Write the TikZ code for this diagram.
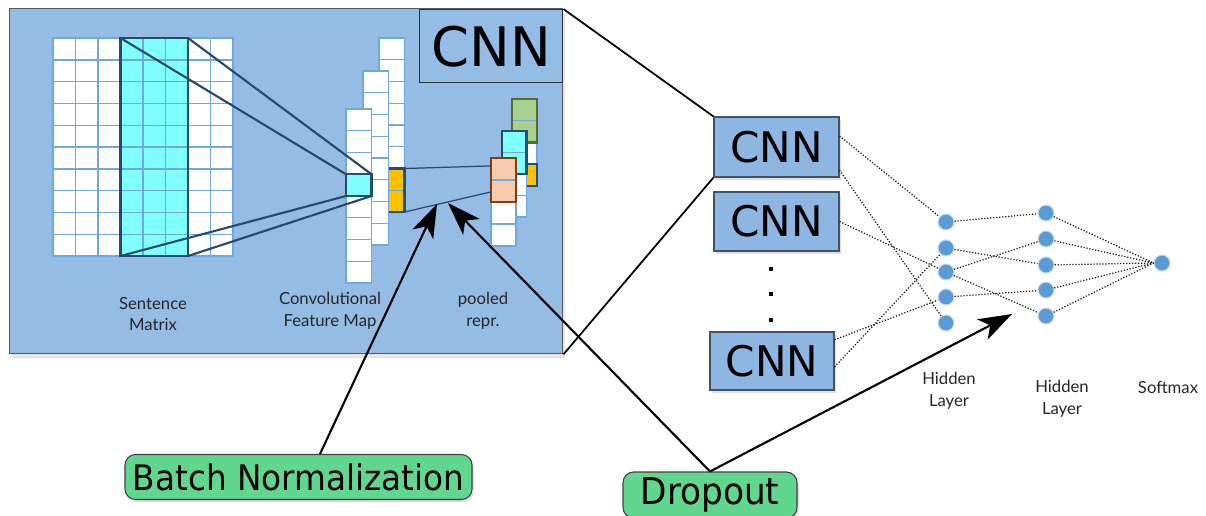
\documentclass[tikz,border=0pt]{standalone}
\usepackage{fontspec}
\setmainfont{Lato}
\newfontfamily\dejavu{DejaVu Sans}
\newfontfamily\dejavun[FakeStretch=0.93]{DejaVu Sans}
\usetikzlibrary{arrows.meta,calc,shadows}

\definecolor{panelblue}{RGB}{148,188,228}
\definecolor{boxblue}{RGB}{141,182,226}
\definecolor{gridblue}{RGB}{111,168,220}
\definecolor{edgeblue}{RGB}{31,78,121}
\definecolor{lineblue}{RGB}{40,72,108}
\definecolor{cellcyan}{RGB}{128,255,255}
\definecolor{cellorange}{RGB}{255,192,0}
\definecolor{cellpink}{RGB}{248,203,173}
\definecolor{pinkedge}{RGB}{132,60,12}
\definecolor{cellgreen}{RGB}{169,209,142}
\definecolor{greenedge}{RGB}{84,110,50}
\definecolor{neuron}{RGB}{91,155,213}
\definecolor{tagfill}{RGB}{96,214,142}

\tikzset{
  pxsize/.style 2 args={minimum width=#1*0.02cm, minimum height=#2*0.02cm},
  cell/.style={draw=gridblue, fill=white, line width=0.8pt},
  pairbox/.style={anchor=north west, inner sep=0pt, outer sep=0pt, line width=1.2pt},
  fmline/.style={draw=lineblue, line width=1.2pt},
  lab/.style={align=center, text=black!85, font=\fontsize{9.5}{12.5}\selectfont},
  panel/.style={anchor=north west, fill=panelblue, draw=black!65, line width=0.8pt,
    drop shadow={opacity=0.2, shadow xshift=1.5pt, shadow yshift=-2.5pt}},
  cnnbox/.style={fill=boxblue, draw=black!55!boxblue, line width=0.6pt, inner sep=0pt,
    font=\dejavu\fontsize{24}{28}\selectfont,
    drop shadow={opacity=0.25, shadow xshift=1pt, shadow yshift=-1.5pt}},
  unit/.style={circle, fill=neuron, draw=neuron!35, line width=0.6pt, minimum size=0.32cm, inner sep=0pt},
  link/.style={densely dotted, line width=0.7pt, black!90},
  tag/.style={rounded corners=6pt, fill=tagfill, draw=black!75, line width=0.6pt, inner sep=0pt,
    font=\dejavun\fontsize{20}{24}\selectfont,
    drop shadow={opacity=0.25, shadow xshift=1pt, shadow yshift=-1.5pt}},
  bigarrow/.style={-{Stealth[length=19pt,width=13pt,inset=5pt]}, line width=1.2pt}
}

\begin{document}
\begin{tikzpicture}[x=0.02cm, y=-0.02cm]
  \useasboundingbox (0,0) rectangle (1206,515);

  \node[panel, pxsize={553}{345}] (panel) at (9,8) {};
  \node[anchor=north west, pxsize={143}{73}, draw=black!80, line width=0.8pt, inner sep=0pt,
    font=\dejavu\fontsize{31}{36}\selectfont] (cnnbig) at (419,9) {CNN};

  % sentence matrix
  \foreach \i in {0,...,7}
    \foreach \j in {0,...,9}
      \draw[cell] ({53+22.5*\i},{38+21.8*\j}) rectangle ++(22.5,21.8);
  \foreach \i in {3,4,5}
    \foreach \j in {0,...,9}
      \draw[cell, fill=cellcyan] ({53+22.5*\i},{38+21.8*\j}) rectangle ++(22.5,21.8);
  \node[pairbox, draw=lineblue, line width=1.4pt, pxsize={67.5}{218}] (win) at (120.5,38) {};

  % feature map
  \foreach \k/\c in {0/white,1/white,2/white,3/white,4/white,5/white,6/cellorange,7/cellorange}
    \draw[cell, fill=\c] (379,{38+21.75*\k}) rectangle ++(25.5,21.75);
  \node[pairbox, draw=edgeblue, pxsize={25.5}{43.5}] (ofm) at (379,168.5) {};
  \foreach \k in {0,...,7}
    \draw[cell] (363,{71+21.75*\k}) rectangle ++(25.5,21.75);
  \foreach \k/\c in {0/white,1/white,2/white,3/cellcyan,4/white,5/white,6/white,7/white}
    \draw[cell, fill=\c] (346,{109+21.75*\k}) rectangle ++(25.5,21.75);
  \node[pairbox, draw=edgeblue, pxsize={25.5}{21.75}] (fcell) at (346,174.25) {};

  % pooled
  \foreach \k/\c in {0/cellgreen,1/cellgreen,2/white,3/cellorange}
    \draw[cell, fill=\c] (512,{99+21.75*\k}) rectangle ++(25,21.75);
  \node[pairbox, draw=greenedge, pxsize={25}{43.5}] (pgreen) at (512,99) {};
  \node[pairbox, draw=edgeblue, pxsize={25}{21.75}] (porange) at (512,164.25) {};
  \foreach \k/\c in {0/cellcyan,1/cellcyan,2/white,3/white}
    \draw[cell, fill=\c] (502,{131+21.5*\k}) rectangle ++(24.5,21.5);
  \node[pairbox, draw=edgeblue, pxsize={24.5}{43}] (pcyan) at (502,131) {};
  \foreach \k/\c in {0/cellpink,1/cellpink,2/white,3/white}
    \draw[cell, fill=\c] (491,{158+22*\k}) rectangle ++(25,22);
  \node[pairbox, draw=pinkedge, pxsize={25}{44}] (pool) at (491,158) {};

  \draw[fmline] (win.north west) -- (fcell.north west);
  \draw[fmline] (win.north east) -- (fcell.north east);
  \draw[fmline] (win.south west) -- (fcell.south west);
  \draw[fmline] (win.south east) -- (fcell.south east);
  \draw[fmline, line width=0.7pt] (ofm.north east) -- ($(pool.north west)!0.18!(pool.south west)$);
  \draw[fmline, line width=0.7pt] (ofm.south east) -- ($(pool.north west)!0.77!(pool.south west)$);

  \node[lab] (lsent) at (153,314) {Sentence\\Matrix};
  \node[lab] (lconv) at (330,311) {Convolutional\\Feature Map};
  \node[lab] (lpool) at (483,311) {pooled\\repr.};

  % cnn column
  \node[cnnbox, pxsize={125}{60}] (cnn1) at (776.5,147) {CNN};
  \node[cnnbox, pxsize={125}{59}] (cnn2) at (776.5,221.5) {CNN};
  \node[cnnbox, pxsize={124}{58}] (cnn3) at (772,361) {CNN};
  \foreach \y in {269,294,320}
    \fill ({771-2},{\y-2}) rectangle ++(4,4);
  \draw[line width=1pt] (cnnbig.north east) -- (cnn1.north west);
  \draw[line width=1pt] (panel.south east) -- (cnn1.south west);

  % dense layers
  \foreach \i/\y in {1/222,2/248,3/272,4/297,5/323}
    \node[unit] (a\i) at (946,\y) {};
  \foreach \i/\y in {1/213,2/239,3/265,4/290,5/316}
    \node[unit] (b\i) at (1046,\y) {};
  \node[unit] (out) at (1162,263) {};

  \draw[link] ($(cnn1.north east)!0.32!(cnn1.south east)$) -- (a1);
  \draw[link] ($(cnn1.north east)!0.88!(cnn1.south east)$) -- (a5);
  \draw[link] (cnn2.east) -- (a3);
  \draw[link] ($(cnn3.north east)!0.14!(cnn3.south east)$) -- (a4);
  \draw[link] ($(cnn3.north east)!0.6!(cnn3.south east)$) -- (a2);
  \foreach \s/\t in {1/1,2/3,3/2,3/5,4/4}
    \draw[link] (a\s) -- (b\t);
  \foreach \t in {1,...,5}
    \draw[link] (b\t) -- (out.west);

  \node[lab] (lh1) at (949,391) {Hidden\\Layer};
  \node[lab] (lh2) at (1062,399) {Hidden\\Layer};
  \node[lab] (lsm) at (1168,387) {Softmax};

  % regularisation tags
  \node[tag, pxsize={347}{45}] (bn) at (298.5,477) {Batch Normalization};
  \node[tag, pxsize={174}{46}, font=\dejavun\fontsize{21}{24}\selectfont] (drop) at (710,495) {Dropout};
  \coordinate (bnend) at (437,204);
  \coordinate (dropend1) at (448,203);
  \coordinate (dropend2) at (1012,314);
  \draw[bigarrow] ([xshift=0.43cm]bn.north) -- (bnend);
  \draw[bigarrow] (drop.north) -- (dropend1);
  \draw[bigarrow] (drop.north) -- (dropend2);
\end{tikzpicture}
\end{document}
